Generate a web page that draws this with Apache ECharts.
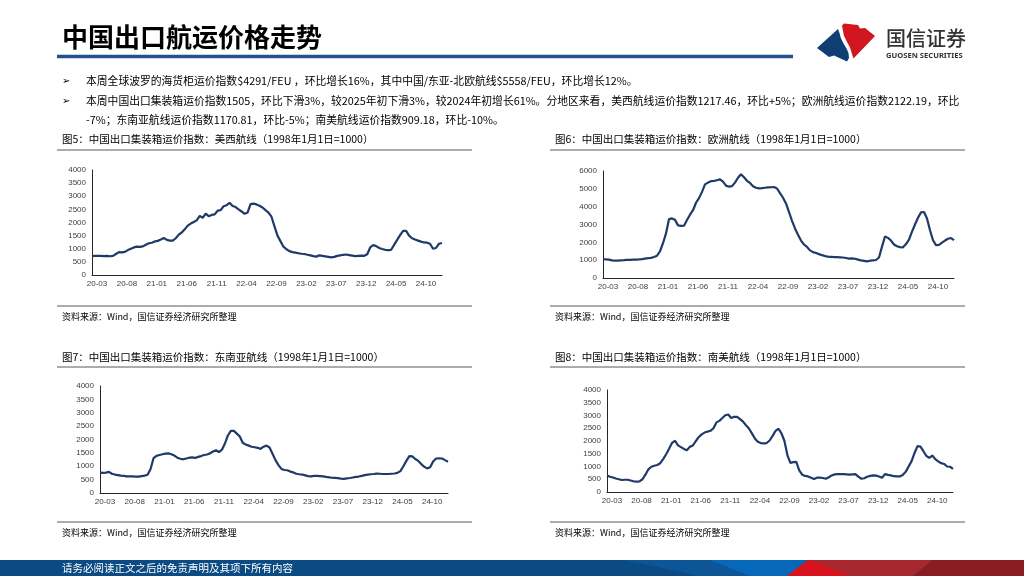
<!DOCTYPE html>
<html>
<head>
<meta charset="utf-8">
<script src="https://cdn.jsdelivr.net/npm/echarts@6/dist/echarts.min.js"></script>
<style>
  html, body { margin: 0; padding: 0; background: #fff; }
  #main { width: 1024px; height: 576px; }
</style>
</head>
<body>
<div id="main"></div>
<script>
// 半月采样（2020-03 ~ 2025-01），指数 1998年1月1日=1000
const dates = []
for (let k = 0; k < 59; k++) {
  const m = 2 + k
  const y = 2020 + Math.floor(m / 12)
  const mm = String((m % 12) + 1).padStart(2, '0')
  dates.push(y + '-' + mm + '-01', y + '-' + mm + '-16')
}

// 美西航线
const westUS = [720, 730, 725, 730, 720, 725, 715, 730, 800, 870,
  860, 880, 950, 1000, 1050, 1080, 1070, 1090, 1150, 1210,
  1230, 1280, 1300, 1350, 1410, 1340, 1310, 1310, 1400, 1540,
  1620, 1740, 1880, 1960, 2020, 2080, 2250, 2180, 2340, 2240,
  2290, 2310, 2450, 2470, 2620, 2660, 2750, 2630, 2590, 2500,
  2420, 2330, 2380, 2700, 2720, 2690, 2640, 2570, 2470, 2380,
  2220, 1850, 1500, 1290, 1080, 980, 910, 870, 850, 830,
  810, 800, 770, 750, 720, 700, 750, 730, 710, 690,
  670, 690, 730, 750, 770, 780, 760, 740, 720, 730,
  740, 730, 790, 1050, 1140, 1100, 1030, 990, 960, 950,
  960, 1150, 1340, 1520, 1680, 1680, 1500, 1400, 1350, 1310,
  1270, 1240, 1230, 1190, 1000, 1030, 1190, 1217.46]

// 欧洲航线
const europe = [1050, 1040, 1030, 990, 970, 970, 990, 1000, 1020, 1020,
  1030, 1030, 1040, 1060, 1090, 1110, 1130, 1180, 1250, 1500,
  1950, 2500, 3300, 3340, 3260, 2950, 2920, 2930, 3250, 3550,
  3800, 4220, 4480, 4830, 5250, 5350, 5430, 5450, 5480, 5530,
  5400, 5180, 5120, 5150, 5350, 5620, 5820, 5650, 5450, 5330,
  5150, 5060, 5030, 5040, 5060, 5080, 5090, 5100, 5020, 4760,
  4500, 4180, 3700, 3200, 2780, 2430, 2100, 1880, 1740, 1550,
  1450, 1400, 1340, 1280, 1230, 1200, 1190, 1170, 1170, 1160,
  1150, 1120, 1090, 1100, 1080, 1030, 990, 960, 930, 970,
  990, 1010, 1150, 1760, 2330, 2250, 2100, 1880, 1780, 1730,
  1720, 1900, 2150, 2600, 3000, 3380, 3680, 3700, 3340, 2680,
  2120, 1840, 1860, 1980, 2100, 2200, 2240, 2122.19]

// 东南亚航线
const seAsia = [760, 750, 760, 790, 720, 690, 670, 650, 640, 620,
  620, 620, 615, 610, 630, 650, 680, 900, 1300, 1390,
  1420, 1450, 1470, 1480, 1450, 1400, 1320, 1280, 1260, 1290,
  1320, 1330, 1310, 1350, 1380, 1420, 1440, 1480, 1550, 1600,
  1530, 1620, 1850, 2150, 2320, 2320, 2220, 2110, 1880, 1810,
  1770, 1730, 1710, 1690, 1650, 1730, 1770, 1700, 1470, 1230,
  1040, 900, 860, 850, 800, 770, 720, 700, 690, 660,
  630, 620, 640, 640, 630, 620, 600, 585, 570, 565,
  555, 540, 530, 545, 560, 580, 600, 615, 640, 670,
  690, 700, 710, 725, 720, 710, 710, 710, 720, 730,
  750, 820, 1000, 1200, 1380, 1370, 1270, 1200, 1080, 980,
  920, 960, 1180, 1290, 1300, 1290, 1230, 1170.81]

// 南美航线
const southAmerica = [650, 600, 570, 530, 500, 470, 480, 480, 450, 420,
  410, 420, 500, 680, 890, 990, 1030, 1060, 1130, 1290,
  1480, 1700, 1930, 2010, 1830, 1760, 1690, 1640, 1770, 1820,
  1990, 2150, 2260, 2330, 2370, 2400, 2500, 2730, 2790, 2900,
  3010, 3040, 2900, 2950, 2950, 2860, 2760, 2620, 2490, 2300,
  2100, 1970, 1920, 1910, 1920, 2020, 2200, 2400, 2480, 2300,
  2000, 1450, 1140, 1170, 1180, 850, 680, 630, 610, 560,
  510, 560, 560, 550, 520, 580, 650, 690, 700, 700,
  700, 690, 680, 690, 700, 600, 520, 540, 600, 630,
  650, 640, 610, 560, 700, 670, 650, 620, 610, 610,
  670, 790, 1000, 1210, 1530, 1800, 1780, 1600, 1410, 1340,
  1430, 1290, 1200, 1130, 1100, 1000, 990, 909.18]

const captions = [
  '图5：中国出口集装箱运价指数：美西航线（1998年1月1日=1000）',
  '图6：中国出口集装箱运价指数：欧洲航线（1998年1月1日=1000）',
  '图7：中国出口集装箱运价指数：东南亚航线（1998年1月1日=1000）',
  '图8：中国出口集装箱运价指数：南美航线（1998年1月1日=1000）'
]
const yMax = [4000, 6000, 4000, 4000]
const yStep = [500, 1000, 500, 500]
const seriesData = [westUS, europe, seAsia, southAmerica]

const source = '资料来源：Wind，国信证券经济研究所整理'
const bullets = [
  '本周全球波罗的海货柜运价指数$4291/FEU ，环比增长16%，其中中国/东亚-北欧航线$5558/FEU，环比增长12%。',
  '本周中国出口集装箱运价指数1505，环比下滑3%，较2025年初下滑3%，较2024年初增长61%。分地区来看，美西航线运价指数1217.46，环比+5%；欧洲航线运价指数2122.19，环比',
  '-7%；东南亚航线运价指数1170.81，环比-5%；南美航线运价指数909.18，环比-10%。'
]

const CJK = '"Noto Sans CJK SC", "Noto Sans", sans-serif'
const grids = [
  { left: 92, top: 170, width: 350, height: 105 },
  { left: 603, top: 171, width: 351, height: 107 },
  { left: 100, top: 386, width: 348, height: 107 },
  { left: 607, top: 390, width: 346, height: 102 }
]
const capPos = [[62, 139.5, 150, 306], [555, 139.5, 150, 306], [62, 357, 367, 522], [555, 357, 367, 522]]

function txt(x, y, text, font, fill, align) {
  return {
    type: 'text', x, y, silent: true,
    style: { text, font, fill: fill || '#000', textAlign: align || 'left', textVerticalAlign: 'middle' }
  }
}
function hline(x1, x2, y, stroke, w) {
  return { type: 'line', silent: true, shape: { x1, y1: y, x2, y2: y }, style: { stroke, lineWidth: w } }
}
function poly(points, fill) {
  return { type: 'polygon', silent: true, shape: { points }, style: { fill } }
}

const graphics = [
  txt(62, 37, '中国出口航运价格走势', 'bold 26px ' + CJK, '#000'),
  hline(57, 793, 56.5, '#24508f', 3.5),
  // logo
  poly([[817, 48], [838, 29], [839.5, 33], [840.8, 38], [843.5, 43.5], [846.5, 48.5], [848.5, 53], [849, 58], [847, 61.5], [834, 55.5], [829, 57]], '#0f3e73'),
  poly([[842, 25.5], [844, 23.5], [858, 25], [860, 28.5], [865, 28], [875, 36], [853.5, 58.5], [852, 54], [850, 47.5], [846.8, 41.5], [844, 36], [842.8, 30]], '#d2161f'),
  txt(886, 38, '国信证券', '500 20px ' + CJK, '#333', 'left'),
  txt(886, 56, 'GUOSEN SECURITIES', 'bold 7.6px "Noto Sans", sans-serif', '#333', 'left'),
  txt(62, 81, '➢', '10px "DejaVu Sans", sans-serif', '#000'),
  txt(62, 101, '➢', '10px "DejaVu Sans", sans-serif', '#000'),
  txt(86, 81, bullets[0], '10.8px ' + CJK, '#000'),
  txt(86, 101, bullets[1], '10.8px ' + CJK, '#000'),
  txt(86, 119.5, bullets[2], '10.8px ' + CJK, '#000'),
  // footer band
  { type: 'rect', silent: true, shape: { x: 0, y: 560, width: 1024, height: 16 }, style: { fill: '#0b4a82' } },
  poly([[623, 560], [808, 560], [787, 576], [700, 576]], '#0c5596'),
  poly([[710, 560], [808, 560], [787, 576], [750, 576]], '#0768b9'),
  poly([[808, 560], [933, 560], [913, 576], [787, 576]], '#a8262e'),
  poly([[787, 576], [808, 560], [850, 576]], '#d9121d'),
  poly([[933, 560], [1024, 560], [1024, 576], [913, 576]], '#8a1d22'),
  txt(62, 568, '请务必阅读正文之后的免责声明及其项下所有内容', '10.5px ' + CJK, '#fff')
]
capPos.forEach(([x, yc, yl, ys], i) => {
  graphics.push(txt(x, yc, captions[i], '10.5px ' + CJK, '#000'))
  graphics.push(hline(x - 5, x + 410, yl, '#595959', 1))
  graphics.push(hline(x - 5, x + 410, ys, '#595959', 1))
  graphics.push(txt(x, ys + 10.5, source, '9px ' + CJK, '#000'))
})

const chart = echarts.init(document.getElementById('main'))
chart.setOption({
  animation: false,
  backgroundColor: '#fff',
  grid: grids.map(g => Object.assign({ containLabel: false }, g)),
  xAxis: grids.map((g, i) => ({
    type: 'category',
    gridIndex: i,
    data: dates,
    boundaryGap: false,
    axisLine: { lineStyle: { color: '#262626', width: 1 } },
    axisTick: { show: false },
    axisLabel: {
      interval: 9,
      formatter: v => v.slice(2, 7),
      fontSize: 8,
      color: '#404040',
      fontFamily: '"Liberation Sans", sans-serif',
      margin: 5,
      padding: [0, 0, 0, 10]
    }
  })),
  yAxis: grids.map((g, i) => ({
    type: 'value',
    gridIndex: i,
    min: 0,
    max: yMax[i],
    interval: yStep[i],
    splitLine: { show: false },
    axisLine: { show: true, lineStyle: { color: '#262626', width: 1 } },
    axisTick: { show: false },
    axisLabel: {
      formatter: v => String(v),
      fontSize: 8,
      color: '#404040',
      fontFamily: '"Liberation Sans", sans-serif',
      margin: 6
    }
  })),
  series: seriesData.map((d, i) => ({
    type: 'line',
    xAxisIndex: i,
    yAxisIndex: i,
    data: d,
    symbol: 'none',
    smooth: false,
    lineStyle: { color: '#1f3a68', width: 2.2 }
  })),
  graphic: graphics
})
</script>
</body>
</html>
